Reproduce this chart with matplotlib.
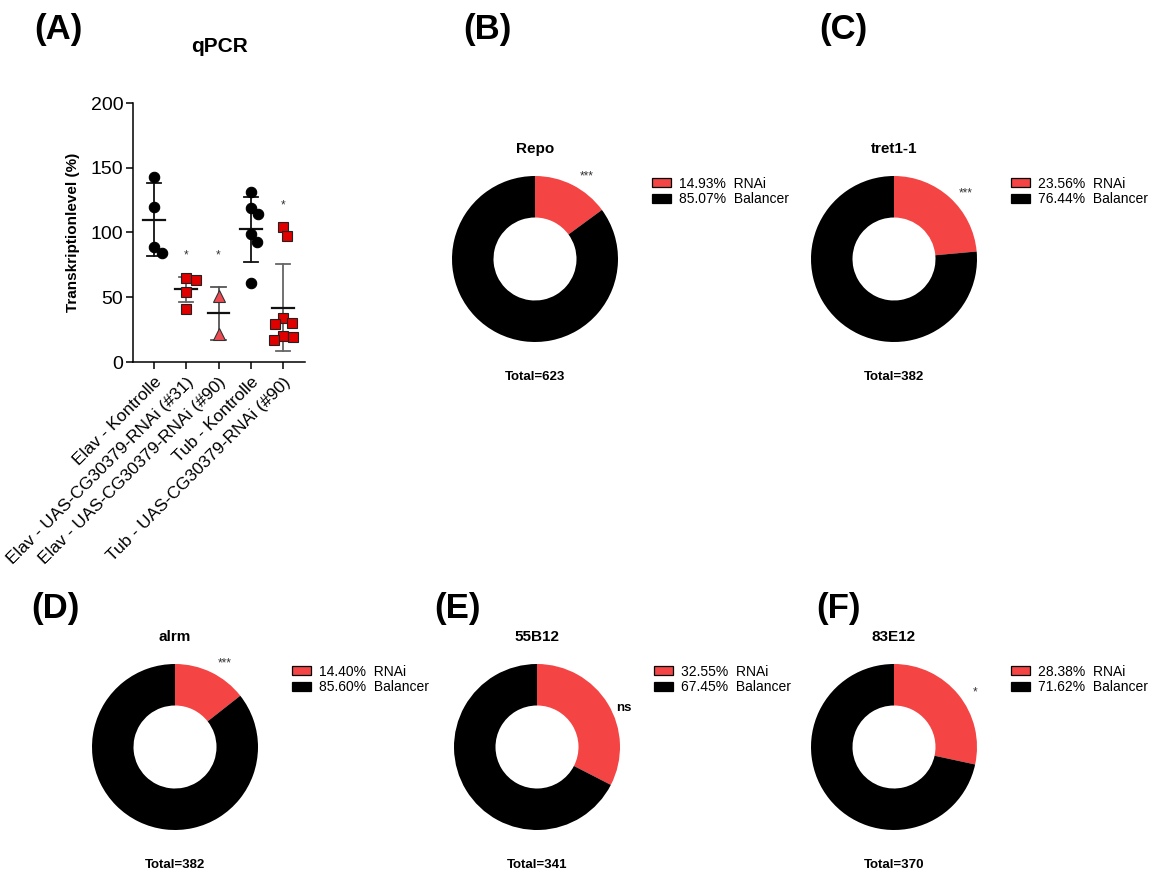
import numpy as np
import matplotlib.pyplot as plt
from matplotlib.patches import Patch

plt.rcParams['font.family'] = ['Liberation Sans', 'DejaVu Sans']

# ---- panel A: qPCR data ----
groups = ["Elav - Kontrolle",
          "Elav - UAS-CG30379-RNAi (#31)",
          "Elav - UAS-CG30379-RNAi (#90)",
          "Tub - Kontrolle",
          "Tub - UAS-CG30379-RNAi (#90)"]
elav_ctrl = [143, 120, 89, 84]
elav_31 = [65, 63, 54, 41]
elav_90 = [51, 22]
tub_ctrl = [131, 119, 114, 99, 93, 61]
tub_90 = [104, 97, 34, 30, 29, 20, 19, 17]
group_mean = [110, 56, 37.5, 102.5, 42]
group_sd = [28, 10, 20.5, 25, 33.5]
star_y = [None, 82, 82, None, 121]
star_txt = [None, "*", "*", None, "*"]

# ---- panels B-F: offspring ratios ----
panel_letters = ["(B)", "(C)", "(D)", "(E)", "(F)"]
pie_titles = ["Repo", "tret1-1", "alrm", "55B12", "83E12"]
rnai_pct = [14.93, 23.56, 14.40, 32.55, 28.38]
balancer_pct = [85.07, 76.44, 85.60, 67.45, 71.62]
totals = [623, 382, 382, 341, 370]
signif = ["***", "***", "***", "ns", "*"]

W, H = 1153, 872
RED = "#f44444"


def fig_rect(x0, y0, w, h):
    return [x0 / W, 1 - (y0 + h) / H, w / W, h / H]


def swarm(values, d=10.0, sx=32.3, sy=1.295):
    # simple beeswarm, done in pixel space
    placed = []
    out = []
    for v in values:
        y = v * sy
        cands = [0.0]
        for px, py in placed:
            dy = abs(y - py)
            if dy < d:
                dx = np.sqrt(d * d - dy * dy)
                cands += [px + dx, px - dx]
        cands.sort(key=abs)
        for c in cands:
            if all((c - px) ** 2 + (y - py) ** 2 >= d * d - 1e-6 for px, py in placed):
                placed.append((c, y))
                out.append(c / sx)
                break
    return out


fig = plt.figure(figsize=(W / 100, H / 100), dpi=100)

# ---------------- panel A ----------------
ax = fig.add_axes(fig_rect(133, 103, 172, 259))
series = [elav_ctrl, elav_31, elav_90, tub_ctrl, tub_90]
styles = [dict(marker="o", color="black", mec="black", ms=7.5),
          dict(marker="s", color="#e00000", mec="#222222", ms=6.8),
          dict(marker="^", color="#ee4a52", mec="#333333", ms=8),
          dict(marker="o", color="black", mec="black", ms=7.5),
          dict(marker="s", color="#e00000", mec="#222222", ms=6.8)]
line_col = ["#111111", "#666666", "#555555", "#111111", "#666666"]

for i, vals in enumerate(series):
    offs = swarm(vals)
    st = styles[i]
    ax.plot(np.array(offs) + i, vals, ls="none", marker=st["marker"],
            mfc=st["color"], mec=st["mec"], mew=0.8, ms=st["ms"], zorder=3)
    m, s = group_mean[i], group_sd[i]
    ax.plot([i, i], [m - s, m + s], color=line_col[i], lw=1.3, zorder=2)
    for yy in (m - s, m + s):
        ax.plot([i - 0.22, i + 0.22], [yy, yy], color=line_col[i], lw=1.3, zorder=2)
    ax.plot([i - 0.34, i + 0.34], [m, m], color="#111111", lw=1.6, zorder=2)
    if star_txt[i]:
        ax.text(i, star_y[i], star_txt[i], ha="center", va="center",
                fontsize=8.5, color="#333333")

ax.set_xlim(-0.65, 4.68)
ax.set_ylim(0, 200)
ax.set_yticks([0, 50, 100, 150, 200])
ax.set_xticks(range(5))
ax.set_xticklabels(groups, rotation=45, ha="right", va="top",
                   rotation_mode="anchor", fontsize=12.5)
ax.tick_params(axis="y", labelsize=14, length=5, width=1.1, pad=2)
ax.tick_params(axis="x", length=5, width=1.1, pad=4)
for side in ("top", "right"):
    ax.spines[side].set_visible(False)
for side in ("left", "bottom"):
    ax.spines[side].set_linewidth(1.1)
ax.set_ylabel("Transkriptionlevel (%)", fontsize=11, fontweight="bold")
ax.yaxis.set_label_coords(-0.31, 0.5)
fig.text(219 / W, 1 - 47 / H, "qPCR", ha="center", va="center",
         fontsize=15, fontweight="bold")
fig.text(58 / W, 1 - 30 / H, "(A)", ha="center", va="center",
         fontsize=25, fontweight="bold")

# ---------------- panels B-F ----------------
centers = [(535, 259), (894, 259), (175, 747), (537, 747), (894, 747)]
letter_pos = [(487, 30), (843, 30), (55, 608), (458, 608), (839, 608)]
R = 83

for k in range(5):
    cx, cy = centers[k]
    pax = fig.add_axes(fig_rect(cx - R, cy - R, 2 * R, 2 * R))
    pax.pie([rnai_pct[k], balancer_pct[k]], colors=[RED, "black"],
            startangle=90, counterclock=False, radius=1.0,
            wedgeprops=dict(width=0.5, edgecolor="none"))
    pax.set_xlim(-1, 1)
    pax.set_ylim(-1, 1)
    pax.set_aspect("equal")
    pax.axis("off")

    pax.text(0, 1.32, pie_titles[k], ha="center", va="center",
             fontsize=11, fontweight="bold", clip_on=False)
    pax.text(0, -1.42, f"Total={totals[k]}", ha="center", va="center",
             fontsize=9.5, fontweight="bold", clip_on=False)

    # significance mark near the RNAi wedge
    ang = np.deg2rad(rnai_pct[k] / 100 * 360 / 2 + 5)
    sx, sy = 1.17 * np.sin(ang), 1.17 * np.cos(ang)
    if signif[k] == "ns":
        pax.text(sx, sy - 0.05, "ns", ha="center", va="center", fontsize=9.5,
                 fontweight="bold", clip_on=False)
    else:
        pax.text(sx, sy, signif[k], ha="center", va="center", fontsize=8.5,
                 color="#333333", clip_on=False)

    handles = [Patch(facecolor=RED, edgecolor="black", lw=0.9),
               Patch(facecolor="black", edgecolor="black", lw=0.9)]
    labels = [f"{rnai_pct[k]:.2f}%  RNAi", f"{balancer_pct[k]:.2f}%  Balancer"]
    pax.legend(handles, labels, loc="upper left", bbox_to_anchor=(1.205, 0.995),
               frameon=False, fontsize=10, handlelength=1.37, handleheight=0.62,
               handletextpad=0.6, labelspacing=0.1, borderpad=0, borderaxespad=0)

    lx, ly = letter_pos[k]
    fig.text(lx / W, 1 - ly / H, panel_letters[k], ha="center", va="center",
             fontsize=25, fontweight="bold")

fig.savefig("out.png", dpi=100)
